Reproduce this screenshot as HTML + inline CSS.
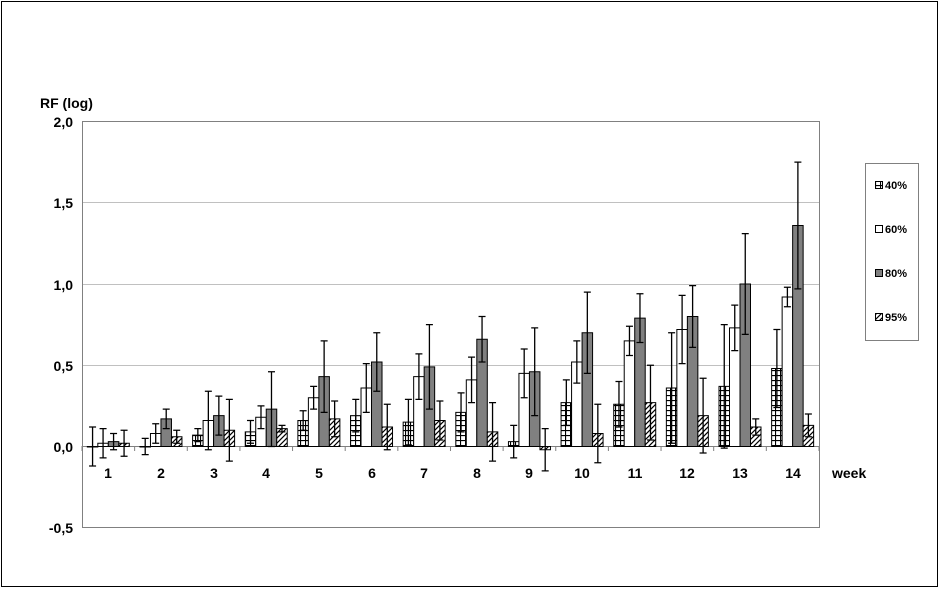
<!DOCTYPE html>
<html><head><meta charset="utf-8"><style>
html,body{margin:0;padding:0;background:#fff}
svg{display:block}
text{font-family:"Liberation Sans",Arial,sans-serif;font-weight:bold;fill:#000}
</style></head><body>
<svg id="s" width="940" height="589" viewBox="0 0 940 589" xmlns="http://www.w3.org/2000/svg">
<defs>
<pattern id="grid" width="5" height="5" patternUnits="userSpaceOnUse"><rect width="5" height="5" fill="#fff"/><path d="M0 0.5H5M0.5 0V5" stroke="#000" stroke-width="1.2"/></pattern>
<pattern id="diag" width="5" height="5" patternUnits="userSpaceOnUse"><rect width="5" height="5" fill="#fff"/><path d="M-1 6L6 -1M-1 1L1 -1M4 6L6 4" stroke="#000" stroke-width="1.2"/></pattern>
</defs>
<rect x="1.5" y="1.5" width="936" height="585" fill="#fff" stroke="#000" stroke-width="1"/>
<rect x="82.5" y="121.5" width="737" height="406" fill="#fff" stroke="#808080" stroke-width="1"/>
<g stroke="#c0c0c0" stroke-width="1">
<line x1="83" x2="819" y1="202.5" y2="202.5"/>
<line x1="83" x2="819" y1="284.5" y2="284.5"/>
<line x1="83" x2="819" y1="365.5" y2="365.5"/>
</g>
<line x1="83" x2="819" y1="446.5" y2="446.5" stroke="#808080"/>
<g id="bars"></g>
<text x="40" y="108" font-size="14">RF (log)</text>
<g font-size="14" text-anchor="end">
<text x="73" y="127">2,0</text>
<text x="73" y="208">1,5</text>
<text x="73" y="290">1,0</text>
<text x="73" y="371">0,5</text>
<text x="73" y="452">0,0</text>
<text x="73" y="533">-0,5</text>
</g>
<g font-size="14" text-anchor="middle">
<text x="108" y="478">1</text><text x="161" y="478">2</text><text x="214" y="478">3</text><text x="266" y="478">4</text><text x="319" y="478">5</text><text x="372" y="478">6</text><text x="424" y="478">7</text><text x="477" y="478">8</text><text x="529" y="478">9</text><text x="582" y="478">10</text><text x="635" y="478">11</text><text x="687" y="478">12</text><text x="740" y="478">13</text><text x="793" y="478">14</text>
</g>
<text x="832" y="478" font-size="14">week</text>
<rect x="865.5" y="163.5" width="53" height="177" fill="#fff" stroke="#808080"/>
<rect x="875.5" y="181.5" width="7" height="7" fill="url(#grid)" stroke="#000"/>
<rect x="875.5" y="225.5" width="7" height="7" fill="#fff" stroke="#000"/>
<rect x="875.5" y="269.5" width="7" height="7" fill="#808080" stroke="#000"/>
<rect x="875.5" y="313.5" width="7" height="7" fill="url(#diag)" stroke="#000"/>
<g font-size="11"><text x="885" y="189">40%</text><text x="885" y="233">60%</text><text x="885" y="277">80%</text><text x="885" y="321">95%</text></g>
</svg>
<script>
var d=[[[0,.12],[.02,.09],[.03,.05],[.02,.08]],[[0,.05],[.08,.06],[.17,.06],[.06,.04]],[[.07,.04],[.16,.18],[.19,.12],[.10,.19]],[[.09,.07],[.18,.07],[.23,.23],[.11,.02]],[[.16,.06],[.30,.07],[.43,.22],[.17,.11]],[[.19,.10],[.36,.15],[.52,.18],[.12,.14]],[[.15,.14],[.43,.14],[.49,.26],[.16,.12]],[[.21,.12],[.41,.14],[.66,.14],[.09,.18]],[[.03,.10],[.45,.15],[.46,.27],[-.02,.13]],[[.27,.14],[.52,.13],[.70,.25],[.08,.18]],[[.26,.14],[.65,.09],[.79,.15],[.27,.23]],[[.36,.34],[.72,.21],[.80,.19],[.19,.23]],[[.37,.38],[.73,.14],[1.0,.31],[.12,.05]],[[.48,.24],[.92,.06],[1.36,.39],[.13,.07]]];
var fills=["url(#grid)","#fff","#808080","url(#diag)"];
var Y=function(v){return 446.5-v*162.5};
var h="";
for(var i=0;i<14;i++){var c=82+(i+0.5)*52.64;
 h+='<line x1="'+(82+i*52.64)+'" x2="'+(82+i*52.64)+'" y1="446" y2="451" stroke="#808080"/>';
 for(var j=0;j<4;j++){var x=c-21+j*10.5,v=d[i][j][0],e=d[i][j][1];var y0=Y(0),y1=Y(v);
  h+='<rect x="'+x+'" y="'+Math.min(y0,y1)+'" width="10.5" height="'+Math.max(Math.abs(y0-y1),0.5)+'" fill="'+fills[j]+'" stroke="#000" stroke-width="1"/>';
  var cx=x+5.25;h+='<path d="M'+cx+' '+Y(v+e)+'V'+Y(v-e)+'M'+(cx-3.5)+' '+Y(v+e)+'h7M'+(cx-3.5)+' '+Y(v-e)+'h7" stroke="#000" stroke-width="1.3" fill="none"/>';
 }}
h+='<line x1="819" x2="819" y1="446" y2="451" stroke="#808080"/>';
document.getElementById("bars").innerHTML=h;
</script>
</body></html>
